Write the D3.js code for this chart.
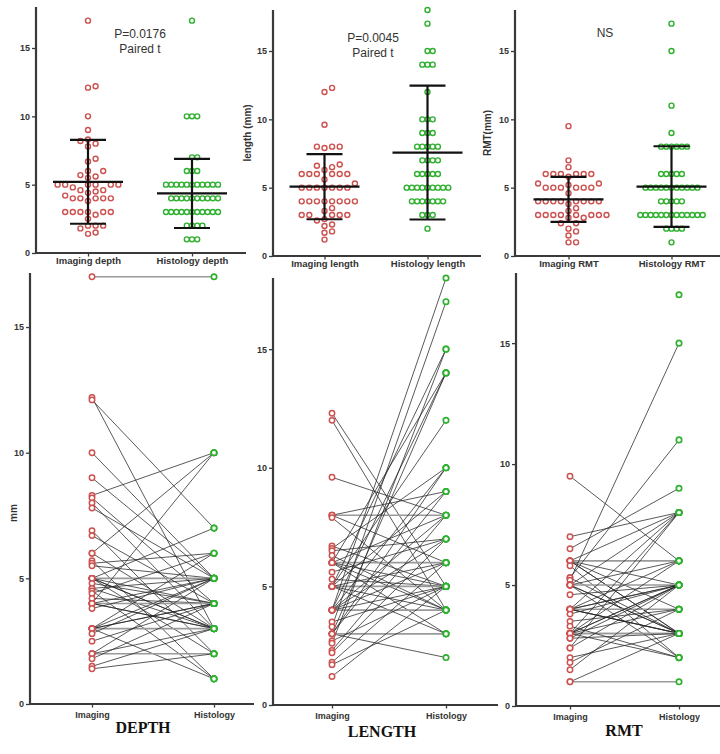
<!DOCTYPE html>
<html><head><meta charset="utf-8">
<script src="https://cdn.jsdelivr.net/npm/d3@7"></script>
<style>body{margin:0;background:#fff}svg{display:block}</style>
</head><body><svg id="c" width="720" height="754"></svg>
<script>
// ---------------- DATA ----------------
const yTicks = [0, 5, 10, 15];
const topCatsDepth = ["Imaging depth", "Histology depth"];
const topCatsLength = ["Imaging length", "Histology length"];
const topCatsRMT = ["Imaging RMT", "Histology RMT"];
const bottomCats = ["Imaging", "Histology"];
const panelTitles = ["DEPTH", "LENGTH", "RMT"];

// paired values (index = same case)
const depthImaging   = [17,12.2,12.1,10,9,8.3,8.2,8.0,7.8,6.9,6.7,6.0,6.0,5.7,5.6,5.5,5,5,5,5,5,5,4.8,4.6,4.6,4.5,4.4,4.2,4,4,4,4,4,3.8,3,3,3,3,3,3,2.8,2.5,2,2,2,1.8,1.5,1.4];
const depthHistology = [17,3,7,5,5,10,4,3,5,2,4,10,3,1,6,5,5,4,3,2,7,3,4,5,3,1,6,4,4,3,5,3,10,5,3,5,4,6,1,4,5,4,2,5,3,4,3,2];

const lengthImaging   = [12.3,12.0,9.6,8.0,8.0,8.0,7.9,6.7,6.6,6.5,6.3,6,6,6,6,6,6,5.6,5.3,5,5,5,5,5,5,5,4,4,4,4,4,4,4,4,3.5,3.3,3,3,3,3,3,2.7,2.6,2.3,2.2,1.8,1.7,1.2];
const lengthHistology = [5,4,8,8,9,6,4,5,10,7,4,6,14,5,8,4,3,7,5,5,9,15,6,12,4,3,4,18,10,5,7,14,6,8,5,17,2,14,9,10,3,5,15,8,7,6,4,5];

const rmtImaging   = [9.5,7.0,6.5,6,6,6,6,6,6,5.8,5.3,5.3,5.2,5,5,5,5,5,5,4.6,4,4,4,4,4,4,4,4,3.8,3.5,3,3,3,3,3,3,3,3,2.8,2.8,2.4,2.4,2.0,1.8,1.5,1.0,1.0,3.3,null];
const rmtHistology = [6,8,9,8,5,3,6,3,4,2,11,3,15,5,3,8,3,6,2,5,3,5,8,4,3,5,6,3,5,4,3,5,8,3,5,4,2,6,5,3,8,5,3,4,5,1,3,2,17];

// mean and SD as drawn (imaging, histology)
const depthMean = [5.21, 4.36],  depthSD = [3.07, 2.53];
const lengthMean = [5.07, 7.57], lengthSD = [2.38, 4.90];
const rmtMean = [4.14, 5.08],    rmtSD = [1.65, 2.95];

const annotations = [["P=0.0176", "Paired t"], ["P=0.0045", "Paired t"], ["NS"]];
const yLabels = ["", "length (mm)", "RMT(mm)"];

// ---------------- STYLE ----------------
const RED = "#cc5250", GREEN = "#2fb02f", AXIS = "#3a3a3a";
const SANS = "'Liberation Sans', Arial, sans-serif";
const SERIF = "'Liberation Serif', 'Times New Roman', serif";

const svg = d3.select("#c");
svg.append("rect").attr("width", 720).attr("height", 754).attr("fill", "#fff");

function swarm(values, y, cx, s, d) {
  const pts = values.map((v, i) => ({v, i})).filter(p => p.v != null)
    .map(p => ({...p, y: y(p.v)}))
    .sort((a, b) => a.v - b.v || a.i - b.i);
  const placed = [];
  pts.forEach(p => {
    for (let k = 0; k < 200; k++) {
      const off = k === 0 ? 0 : (k % 2 ? Math.ceil(k / 2) : -Math.ceil(k / 2)) * s;
      if (placed.every(q => (q.x - off) ** 2 + (q.y - p.y) ** 2 >= d * d - 0.01)) {
        p.dx = off; placed.push({x: off, y: p.y}); break;
      }
    }
  });
  return pts.map(p => ({v: p.v, x: cx + p.dx, y: p.y}));
}

function drawAxes(g, x, y, L, labelSize) {
  const ya = d3.axisLeft(y).tickValues(yTicks).tickSize(4).tickSizeOuter(0).tickPadding(2).tickFormat(d3.format("d"));
  const gy = g.append("g").attr("transform", `translate(${L.axisX},0)`).call(ya);
  gy.select(".domain").remove();
  gy.selectAll("line").attr("stroke", AXIS).attr("stroke-width", 1.3);
  gy.selectAll("text").attr("font-family", SANS).attr("font-size", 9).attr("font-weight", "bold").attr("fill", "#333");
  g.append("line").attr("x1", L.axisX).attr("x2", L.axisX).attr("y1", y(0) + 1).attr("y2", L.yTop)
    .attr("stroke", AXIS).attr("stroke-width", 2.2);
  const xa = d3.axisBottom(x).tickSize(3.5).tickSizeOuter(0).tickPadding(L.tickPad);
  const gx = g.append("g").attr("transform", `translate(0,${y(0)})`).call(xa);
  gx.select(".domain").remove();
  gx.selectAll("line").attr("stroke", AXIS).attr("stroke-width", 1.3);
  gx.selectAll("text").attr("font-family", SANS).attr("font-size", labelSize).attr("font-weight", "bold").attr("fill", "#333");
  g.append("line").attr("x1", L.axisX - 1).attr("x2", L.xEnd).attr("y1", y(0)).attr("y2", y(0))
    .attr("stroke", AXIS).attr("stroke-width", 2.2);
}

// ---------------- TOP PANELS ----------------
const topLayout = [
  {axisX: 36, r0: 36, r1: 244, yBottom: 253, yTop: 7, ymax: 18, xEnd: 246, tickPad: 1, ann: [140, 38, 53], yl: null},
  {axisX: 273, r0: 273, r1: 479, yBottom: 256, yTop: 10, ymax: 18, xEnd: 481, tickPad: 1, ann: [373, 42, 57], yl: [247, 133]},
  {axisX: 515, r0: 517, r1: 723, yBottom: 256, yTop: 10, ymax: 18, xEnd: 720, tickPad: 1, ann: [605, 37], yl: [487, 133]}
];
const topData = [
  {cats: topCatsDepth, im: depthImaging, hi: depthHistology, mean: depthMean, sd: depthSD},
  {cats: topCatsLength, im: lengthImaging, hi: lengthHistology, mean: lengthMean, sd: lengthSD},
  {cats: topCatsRMT, im: rmtImaging, hi: rmtHistology, mean: rmtMean, sd: rmtSD}
];

topData.forEach((D, p) => {
  const L = topLayout[p];
  const g = svg.append("g");
  const y = d3.scaleLinear().domain([0, L.ymax]).range([L.yBottom, L.yTop]);
  const x = d3.scalePoint().domain(D.cats).range([L.r0, L.r1]).padding(0.5);
  drawAxes(g, x, y, L, 9.5);

  const series = [[D.im, RED, 7.6, 6.2], [D.hi, GREEN, 5.2, 5.2]];
  series.forEach(([vals, col, s, d], k) => {
    const pts = swarm(vals, y, x(D.cats[k]), s, d);
    g.append("g").selectAll("circle").data(pts).join("circle")
      .attr("cx", q => q.x).attr("cy", q => q.y).attr("r", 2.5)
      .attr("fill", "none").attr("stroke", col).attr("stroke-width", 1.4);
  });
  D.cats.forEach((c, k) => {
    const cx = x(c), m = D.mean[k], sd = D.sd[k];
    const eb = g.append("g").attr("stroke", "#111").attr("stroke-width", 2.2);
    eb.append("line").attr("x1", cx).attr("x2", cx).attr("y1", y(m - sd)).attr("y2", y(m + sd));
    eb.append("line").attr("x1", cx - 35).attr("x2", cx + 35).attr("y1", y(m)).attr("y2", y(m));
    [m - sd, m + sd].forEach(v => eb.append("line").attr("x1", cx - 18).attr("x2", cx + 18).attr("y1", y(v)).attr("y2", y(v)));
  });
  annotations[p].forEach((t, i) => {
    g.append("text").attr("x", L.ann[0]).attr("y", L.ann[1 + i]).attr("text-anchor", "middle")
      .attr("font-family", SANS).attr("font-size", 12).attr("fill", "#333").text(t);
  });
  if (L.yl) {
    g.append("text").attr("transform", `translate(${L.yl[0]},${L.yl[1]}) rotate(-90)`)
      .attr("text-anchor", "middle").attr("dy", "0.35em")
      .attr("font-family", SANS).attr("font-size", 10).attr("font-weight", "bold").attr("fill", "#333").text(yLabels[p]);
  }
});

// ---------------- BOTTOM PANELS ----------------
const botLayout = [
  {axisX: 30, c0: 92, c1: 214, yBottom: 704, yTop: 273, ymax: 17.15, xEnd: 254, tickPad: 4, title: [143, 733]},
  {axisX: 273, c0: 332, c1: 446, yBottom: 705, yTop: 278, ymax: 18.0, xEnd: 498, tickPad: 4, title: [382, 737]},
  {axisX: 516, c0: 570, c1: 679, yBottom: 706, yTop: 273, ymax: 17.9, xEnd: 720, tickPad: 4, title: [624, 736]}
];
const botData = [
  {im: depthImaging, hi: depthHistology},
  {im: lengthImaging, hi: lengthHistology},
  {im: rmtImaging, hi: rmtHistology}
];

botData.forEach((D, p) => {
  const L = botLayout[p];
  const g = svg.append("g");
  const y = d3.scaleLinear().domain([0, L.ymax]).range([L.yBottom, L.yTop]);
  const step = L.c1 - L.c0;
  const x = d3.scalePoint().domain(bottomCats).range([L.c0 - step / 2, L.c1 + step / 2]).padding(0.5);
  drawAxes(g, x, y, L, 9);

  const pairs = D.im.map((v, i) => ({a: v, b: D.hi[i]})).filter(d => d.a != null && d.b != null);
  g.append("g").selectAll("line").data(pairs).join("line")
    .attr("x1", x("Imaging")).attr("x2", x("Histology"))
    .attr("y1", d => y(d.a)).attr("y2", d => y(d.b))
    .attr("stroke", d => d.a === d.b ? "#9a9a9a" : "#262626")
    .attr("stroke-width", d => d.a === d.b ? 1.6 : 0.9)
    .attr("stroke-opacity", d => d.a === d.b ? 1 : 0.85);

  const ptsI = D.im.filter(v => v != null), ptsH = D.hi.filter(v => v != null);
  g.append("g").selectAll("circle").data(ptsI).join("circle")
    .attr("cx", x("Imaging")).attr("cy", v => y(v)).attr("r", 2.7)
    .attr("fill", "#fff").attr("stroke", RED).attr("stroke-width", 1.5);
  g.append("g").selectAll("circle").data(ptsH).join("circle")
    .attr("cx", x("Histology")).attr("cy", v => y(v)).attr("r", 2.7)
    .attr("fill", "#fff").attr("stroke", GREEN).attr("stroke-width", 1.7);

  g.append("text").attr("x", L.title[0]).attr("y", L.title[1]).attr("text-anchor", "middle")
    .attr("font-family", SERIF).attr("font-size", 16).attr("font-weight", "bold").attr("fill", "#111")
    .text(panelTitles[p]);
});

svg.append("text").attr("transform", "translate(13,513) rotate(-90)")
  .attr("text-anchor", "middle").attr("dy", "0.35em")
  .attr("font-family", SANS).attr("font-size", 10).attr("font-weight", "bold").attr("fill", "#333").text("mm");
</script></body></html>
